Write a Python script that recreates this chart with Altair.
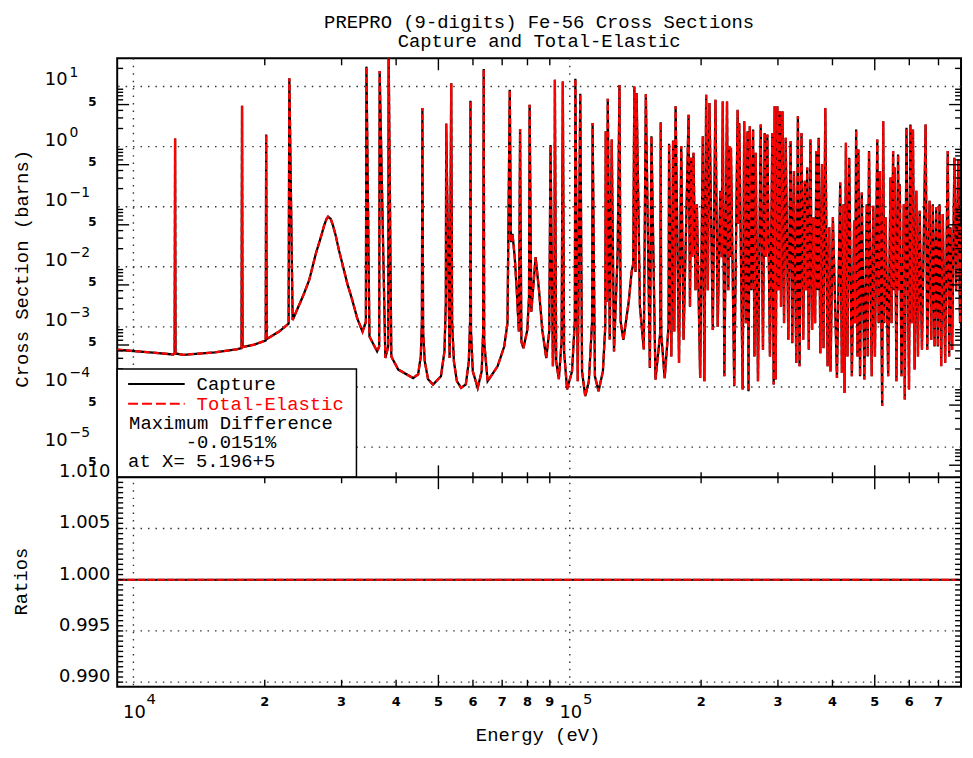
import altair as alt
import pandas as pd

# ---------------- values ----------------
title_lines = ["PREPRO (9-digits) Fe-56 Cross Sections", "Capture and Total-Elastic"]
x_title = "Energy (eV)"
y_title_top = "Cross Section (barns)"
y_title_bottom = "Ratios"
legend_labels = ["Capture", "Total-Elastic"]
legend_notes = ["Maximum Difference", "-0.0151%", "at X= 5.196+5"]

# (energy eV, cross section barns)
low_energy_points = [
    (9180, 4.17e-4), (10910, 3.76e-4), (12340, 3.48e-4), (12430, 3.62e-4), (12460, 1.36),
    (12490, 3.62e-4), (13020, 3.44e-4), (15350, 3.76e-4), (17220, 4.22e-4), (17690, 4.43e-4),
    (17740, 4.78), (17790, 4.60e-4), (18920, 5.09e-4), (20100, 5.94e-4), (20150, 1.585),
    (20210, 6.28e-4), (21570, 8.36e-4), (22680, 1.135e-3), (22770, 13.7), (23170, 1.305e-3),
    (24430, 3.17e-3), (25280, 5.98e-3), (26180, 1.648e-2), (26890, 3.11e-2), (27350, 4.85e-2),
    (27700, 6.24e-2), (27930, 6.84e-2), (28330, 6.24e-2), (28670, 4.85e-2), (29080, 3.32e-2),
    (29590, 1.87e-2), (30120, 1.125e-2), (30920, 5.26e-3), (31740, 2.79e-3), (32580, 1.39e-3),
    (33500, 8.36e-4), (34100, 1.22e-3), (34200, 21.4),
    (34750, 6.92e-4), (36180, 3.91e-4), (36580, 4.72e-4), (36670, 18.1), (37790, 3.03e-4),
    (38360, 4.72e-4), (38450, 40.0), (39000, 3.23e-4), (40450, 1.95e-4),
]
mid_energy_points = [
    (43750, 1.41e-4), (44930, 1.63e-4), (45560, 3.23e-4), (45830, 1.22e-3), (45950, 4.38),
    (46120, 8.36e-4), (46530, 2.67e-4), (47340, 1.35e-4), (48600, 1.10e-4), (50680, 1.51e-4),
    (51620, 3.91e-4), (52000, 2.62e-3), (52100, 2.41), (53050, 3.03e-4), (53500, 11.3),
    (53750, 1.22e-3), (54260, 2.67e-4), (55120, 1.25e-4), (56360, 9.66e-5), (57780, 1.11e-4),
    (58700, 2.67e-4), (59100, 1.22e-3), (59220, 5.78), (59380, 8.36e-4), (59950, 1.82e-4),
    (61520, 9.66e-5), (62830, 1.82e-4), (63320, 8.36e-4), (63500, 19.5), (63660, 5.71e-4),
    (64830, 1.25e-4), (68320, 2.21e-4), (70760, 4.72e-4), (71990, 1.15e-3), (72860, 8.79),
    (73330, 2.57e-2), (73910, 3.52e-2), (74800, 1.45e-2), (75590, 4.14e-3), (76270, 1.15e-3),
    (76460, 8.36e-4), (76940, 1.97), (77470, 5.71e-4), (78280, 4.43e-4), (79940, 8.91e-4),
    (80660, 3.17e-3), (80910, 4.96), (81640, 1.79e-3), (83500, 1.45e-2), (85000, 4.14e-3),
    (86500, 8.91e-4), (88340, 3.03e-4), (89730, 8.36e-4), (90340, 1.06), (91490, 2.21e-4),
    (92210, 1.22e-3), (92450, 12.9), (93080, 2.67e-4), (94400, 1.35e-4), (95790, 5.71e-4),
    (96400, 12.1), (97050, 3.91e-4), (98600, 9.10e-5), (101200, 1.82e-4), (102700, 1.22e-3),
    (103000, 13.4), (104300, 1.25e-4), (105700, 7.55), (106700, 1.82e-4), (108500, 7.05e-5),
    (110600, 1.25e-4), (112500, 1.22e-3), (112800, 2.47), (114200, 1.51e-4), (116400, 8.53e-5),
    (119100, 1.82e-4), (120600, 1.0e-3), (120900, 1.80), (121600, 2.62e-3), (122200, 6.24),
    (123500, 6.17e-4), (124800, 1.31), (126300, 3.91e-4), (128800, 1.90e-2), (130000, 10.6),
    (130800, 1.22e-3), (132700, 6.10e-4), (136500, 2.62e-3), (138600, 8.20e-3), (139800, 1.125e-2),
    (140600, 10.0), (141500, 8.20e-3), (142300, 7.75), (144800, 2.16e-3), (147800, 4.22e-4),
    (149400, 7.46), (152600, 2.07e-4), (153900, 1.49), (157200, 1.33e-4), (161200, 8.0e-4),
    (161600, 2.54), (162000, 8.0e-4), (165000, 1.41e-4), (168400, 1.0e-3), (168900, 1.11),
    (170900, 3.23e-4), (172500, 1.26), (173600, 8.36e-4), (174800, 4.67),
]
high_energy_points = [
    (178000, 2.50e-4), (180100, 1.02), (182300, 6.10e-4), (187200, 3.39), (188600, 2.17e-3),
    (189800, 0.653), (190800, 1.45e-2), (192100, 0.790), (194200, 4.09e-3), (195600, 0.110),
    (199000, 1.41e-4), (201800, 1.49), (203500, 1.25e-4), (205400, 7.26), (207200, 4.09e-3),
    (209000, 5.30), (212700, 8.91e-4), (215700, 6.01), (218300, 1.01e-3), (221300, 0.184),
    (223000, 1.45e-2), (224200, 5.65), (226100, 1.51e-4), (229300, 5.65), (230900, 4.09e-3),
    (232100, 1.02), (233300, 1.45e-2), (234100, 0.955), (238200, 1.03e-4), (242500, 4.10),
    (243800, 5.15e-2), (244600, 2.47), (249000, 9.10e-5), (251100, 2.64), (253300, 1.15e-3),
    (255500, 1.80), (256800, 8.53e-5), (258600, 2.18), (260800, 4.09e-3), (263100, 1.92),
    (265000, 3.23e-4), (266800, 0.790), (270000, 1.25e-4), (273900, 2.32), (277200, 4.17e-4),
    (279700, 1.69), (281600, 1.45e-2), (283700, 1.585), (287600, 3.23e-4), (291200, 1.69),
    (293300, 1.10e-4), (294800, 4.67), (296400, 1.33e-4), (299100, 4.67), (300700, 4.09e-3),
    (302800, 3.86), (304900, 2.17e-3), (307200, 3.86), (309800, 1.15e-3), (312500, 1.40),
    (316900, 6.10e-4), (320700, 1.23), (323600, 5.36e-4), (326400, 0.394), (330500, 2.50e-4),
    (333300, 3.19), (336200, 2.21e-4), (339700, 1.69), (342800, 6.10e-4), (345700, 0.269),
    (347500, 4.09e-3), (350100, 0.447), (353000, 4.17e-4), (356100, 1.31), (359300, 8.91e-4),
    (362300, 6.65e-2), (365000, 1.15e-3), (367500, 0.843), (370000, 4.09e-3), (371900, 1.40),
    (375200, 3.66e-4), (378500, 0.506), (381600, 4.43e-4), (385100, 4.38), (389800, 2.21e-4),
    (393300, 4.55e-2), (395900, 1.82e-4), (400900, 6.65e-2), (409600, 1.41e-4), (416700, 0.252),
    (420400, 1.71e-4), (424000, 0.110), (426300, 7.98e-5), (429400, 1.16), (433000, 3.23e-4),
    (436900, 0.653), (443100, 1.51e-4), (448500, 5.87e-2), (450800, 1.15e-3), (453200, 1.92),
    (456300, 3.23e-4), (458600, 0.895), (462700, 1.51e-4), (466900, 0.172), (473300, 1.33e-4),
    (479300, 0.110), (481800, 3.23e-4), (485100, 0.843), (492100, 1.51e-4), (496200, 0.104),
    (500500, 3.23e-4), (506700, 1.31), (510400, 1.15e-3), (513900, 0.394), (520000, 4.82e-5),
    (522800, 2.64), (525600, 1.15e-3), (529500, 6.65e-2), (536700, 1.51e-4), (543400, 0.305),
    (546300, 1.15e-3), (550900, 0.843), (553700, 4.09e-3), (555700, 0.447), (560600, 1.25e-4),
    (565500, 0.740), (568500, 4.09e-3), (570600, 0.236), (575800, 1.51e-4), (582800, 0.110),
    (585800, 6.21e-5), (591100, 2.05), (599100, 9.10e-5), (603500, 2.32), (607600, 1.15e-3),
    (611700, 1.92), (617100, 1.95e-4), (622700, 0.184), (628000, 3.23e-4), (633700, 8.59e-2),
    (641400, 4.17e-4), (653900, 2.32), (659700, 4.17e-4), (667700, 0.126), (673700, 6.10e-4),
    (679300, 0.110), (685500, 4.72e-4), (691600, 9.74e-2), (697500, 4.72e-4), (703700, 0.110),
    (710000, 2.21e-4), (715900, 7.55e-2), (725000, 2.50e-4), (735000, 0.843), (740400, 3.23e-4),
    (745500, 4.55e-2), (752200, 4.17e-4), (761200, 0.653), (768000, 4.09e-3), (777200, 0.612),
    (784200, 1.15e-3), (788300, 5.15e-2),
]

ratio_energy = [9180, 20000, 50000, 100000, 200000, 500000, 788300]
ratio_capture = [1.0, 1.0, 1.0, 1.0, 1.0, 1.0, 1.0]
ratio_total_elastic = [1.0, 1.0, 1.0, 1.0, 1.0, 1.0, 1.0]

energy_domain = [9180, 788300]
sigma_domain = [3.15e-6, 29.4]
ratio_domain = [0.98955, 1.0100]

x_decades = [1e4, 1e5]
x_decade_exps = ["4", "5"]
x_minor = [2e4, 3e4, 4e4, 5e4, 6e4, 7e4, 8e4, 9e4, 2e5, 3e5, 4e5, 5e5, 6e5, 7e5]
x_minor_labels = ["2", "3", "4", "5", "6", "7", "8", "9", "2", "3", "4", "5", "6", "7"]
y_decades = [1e-5, 1e-4, 1e-3, 1e-2, 1e-1, 1.0, 10.0]
y_decade_exps = ["\u22125", "\u22124", "\u22123", "\u22122", "\u22121", "0", "1"]
y_fives = [5e-6, 5e-5, 5e-4, 5e-3, 5e-2, 0.5, 5.0]
ratio_label_values = [0.990, 0.995, 1.000, 1.005, 1.010]
ratio_labels = ["0.990", "0.995", "1.000", "1.005", "1.010"]
ratio_grid = [0.990, 0.995, 1.000, 1.005]

# ---------------- layout (pixels) ----------------
W, HT, H = 850, 422, 633
MONO = "Liberation Mono"
SANS = "DejaVu Sans"
RED = "#ff0000"

xs = alt.Scale(type="log", domain=energy_domain, nice=False)
ys_top = alt.Scale(type="log", domain=sigma_domain, range=[HT, 0], nice=False)
ys_bot = alt.Scale(type="linear", domain=ratio_domain, range=[H, HT], nice=False, zero=False)


def X(f="E"):
    return alt.X(f"{f}:Q", scale=xs, axis=None)


def YT(f):
    return alt.Y(f"{f}:Q", scale=ys_top, axis=None)


def YB(f):
    return alt.Y(f"{f}:Q", scale=ys_bot, axis=None)


pts = low_energy_points + mid_energy_points + high_energy_points
curve = pd.DataFrame({
    "E": [p[0] for p in pts],
    "capture": [p[1] for p in pts],
    "total_elastic": [p[1] for p in pts],
})
ratio_df = pd.DataFrame({"E": ratio_energy, "rc": ratio_capture, "rt": ratio_total_elastic})
one = pd.DataFrame({"k": [0]})

layers = []

# anchor so that the plot origin lands at page (117, 55)
layers.append(alt.Chart(one).mark_point(opacity=0, size=1, filled=True).encode(
    x=alt.value(-109), y=alt.value(-47)))

# grid
dots = dict(color="#333333", strokeWidth=1.4, strokeDash=[1.5, 6])
layers.append(alt.Chart(pd.DataFrame({"v": y_decades})).mark_rule(**dots).encode(y=YT("v")))
layers.append(alt.Chart(pd.DataFrame({"r": ratio_grid})).mark_rule(**dots).encode(y=YB("r")))
layers.append(alt.Chart(pd.DataFrame({"E": x_decades})).mark_rule(**dots).encode(x=X()))

# curves
layers.append(alt.Chart(curve).mark_line(color="black", strokeWidth=2.3, clip=True).encode(
    x=X(), y=YT("capture")))
layers.append(alt.Chart(curve).mark_line(color=RED, strokeWidth=2.3, strokeDash=[6, 3], clip=True).encode(
    x=X(), y=YT("total_elastic")))
layers.append(alt.Chart(ratio_df).mark_line(color="black", strokeWidth=2).encode(x=X(), y=YB("rc")))
layers.append(alt.Chart(ratio_df).mark_line(color=RED, strokeWidth=2, strokeDash=[8, 2]).encode(
    x=X(), y=YB("rt")))

# ticks
tk = dict(color="black", strokeWidth=1.4)
x_short = pd.DataFrame({"E": [v for v in x_minor if v not in (5e4, 5e5)]})
x_long = pd.DataFrame({"E": [5e4, 5e5]})
for df, spans in ((x_short, [(0, 7), (417, 428), (626, 633)]), (x_long, [(0, 12), (410, 434), (621, 633)])):
    for a, b in spans:
        layers.append(alt.Chart(df).mark_rule(**tk).encode(x=X(), y=alt.value(a), y2=alt.value(b)))

y_minor = [k * 10.0 ** n for n in range(-6, 2) for k in (2, 3, 4, 6, 7, 8, 9)
           if sigma_domain[0] <= k * 10.0 ** n <= sigma_domain[1]]
y_short = pd.DataFrame({"v": y_minor})
y_long = pd.DataFrame({"v": y_fives})
for df, ln in ((y_short, 6), (y_long, 12)):
    layers.append(alt.Chart(df).mark_rule(**tk).encode(y=YT("v"), x=alt.value(0), x2=alt.value(ln)))
    layers.append(alt.Chart(df).mark_rule(**tk).encode(y=YT("v"), x=alt.value(W - ln), x2=alt.value(W)))

r_ticks = pd.DataFrame({"r": [round(0.9900 + 0.0005 * i, 4) for i in range(41)]})
layers.append(alt.Chart(r_ticks).mark_rule(**tk).encode(y=YB("r"), x=alt.value(0), x2=alt.value(6)))
layers.append(alt.Chart(r_ticks).mark_rule(**tk).encode(y=YB("r"), x=alt.value(W - 6), x2=alt.value(W)))

# tick labels
layers.append(alt.Chart(pd.DataFrame({"E": x_minor, "lab": x_minor_labels})).mark_text(
    font=SANS, fontSize=13, fontWeight="bold", color="black").encode(
    x=X(), y=alt.value(648), text="lab:N"))
layers.append(alt.Chart(pd.DataFrame({"E": x_decades})).mark_text(
    font=SANS, fontSize=18, color="black", dx=1).encode(x=X(), y=alt.value(659), text=alt.value("10")))
layers.append(alt.Chart(pd.DataFrame({"E": x_decades, "ex": x_decade_exps})).mark_text(
    font=SANS, fontSize=15, color="black", dx=18).encode(x=X(), y=alt.value(645), text="ex:N"))

layers.append(alt.Chart(pd.DataFrame({"v": y_decades})).mark_text(
    font=SANS, fontSize=18, color="black", align="right", dy=-6).encode(
    x=alt.value(-50), y=YT("v"), text=alt.value("10")))
layers.append(alt.Chart(pd.DataFrame({"v": y_decades, "ex": y_decade_exps})).mark_text(
    font=SANS, fontSize=14, color="black", align="left", dy=-14).encode(
    x=alt.value(-48), y=YT("v"), text="ex:N"))
layers.append(alt.Chart(pd.DataFrame({"v": y_fives})).mark_text(
    font=SANS, fontSize=12, fontWeight="bold", color="black", dy=-3).encode(
    x=alt.value(-25), y=YT("v"), text=alt.value("5")))
layers.append(alt.Chart(pd.DataFrame({"r": ratio_label_values, "lab": ratio_labels})).mark_text(
    font=SANS, fontSize=18, color="black", align="right", dy=-5).encode(
    x=alt.value(-7), y=YB("r"), text="lab:N"))

# titles
layers.append(alt.Chart(one).mark_text(font=MONO, fontSize=19, color="black").encode(
    x=alt.value(425), y=alt.value(-37), text=alt.value(title_lines[0])))
layers.append(alt.Chart(one).mark_text(font=MONO, fontSize=19, color="black").encode(
    x=alt.value(425), y=alt.value(-17), text=alt.value(title_lines[1])))
layers.append(alt.Chart(one).mark_text(font=MONO, fontSize=19, color="black").encode(
    x=alt.value(424), y=alt.value(682), text=alt.value(x_title)))
layers.append(alt.Chart(one).mark_text(font=MONO, fontSize=19, color="black", angle=270).encode(
    x=alt.value(-96), y=alt.value(212), text=alt.value(y_title_top)))
layers.append(alt.Chart(one).mark_text(font=MONO, fontSize=19, color="black", angle=270).encode(
    x=alt.value(-97), y=alt.value(527), text=alt.value(y_title_bottom)))

# legend box
layers.append(alt.Chart(one).mark_rect(fill="white", stroke="black", strokeWidth=1.5).encode(
    x=alt.value(0), x2=alt.value(241), y=alt.value(313), y2=alt.value(422)))
layers.append(alt.Chart(one).mark_rule(color="black", strokeWidth=2).encode(
    x=alt.value(11), x2=alt.value(68), y=alt.value(328)))
layers.append(alt.Chart(one).mark_rule(color=RED, strokeWidth=2, strokeDash=[10, 4]).encode(
    x=alt.value(11), x2=alt.value(68), y=alt.value(348)))
layers.append(alt.Chart(one).mark_text(font=MONO, fontSize=19, color="black", align="left").encode(
    x=alt.value(80), y=alt.value(328), text=alt.value(legend_labels[0])))
layers.append(alt.Chart(one).mark_text(font=MONO, fontSize=19, color=RED, align="left").encode(
    x=alt.value(80), y=alt.value(348), text=alt.value(legend_labels[1])))
layers.append(alt.Chart(one).mark_text(font=MONO, fontSize=19, color="black", align="left").encode(
    x=alt.value(12), y=alt.value(367), text=alt.value(legend_notes[0])))
layers.append(alt.Chart(one).mark_text(font=MONO, fontSize=19, color="black", align="left").encode(
    x=alt.value(69), y=alt.value(387), text=alt.value(legend_notes[1])))
layers.append(alt.Chart(one).mark_text(font=MONO, fontSize=19, color="black", align="left").encode(
    x=alt.value(11), y=alt.value(406), text=alt.value(legend_notes[2])))

# panel separator
layers.append(alt.Chart(one).mark_rule(color="black", strokeWidth=2).encode(
    x=alt.value(0), x2=alt.value(W), y=alt.value(HT)))

chart = alt.layer(*layers).resolve_scale(y="independent").properties(
    width=W, height=H, padding=0, background="white"
).configure_view(stroke="black", strokeWidth=2)

chart.save("out.html", embed_options={"renderer": "svg", "actions": False})
